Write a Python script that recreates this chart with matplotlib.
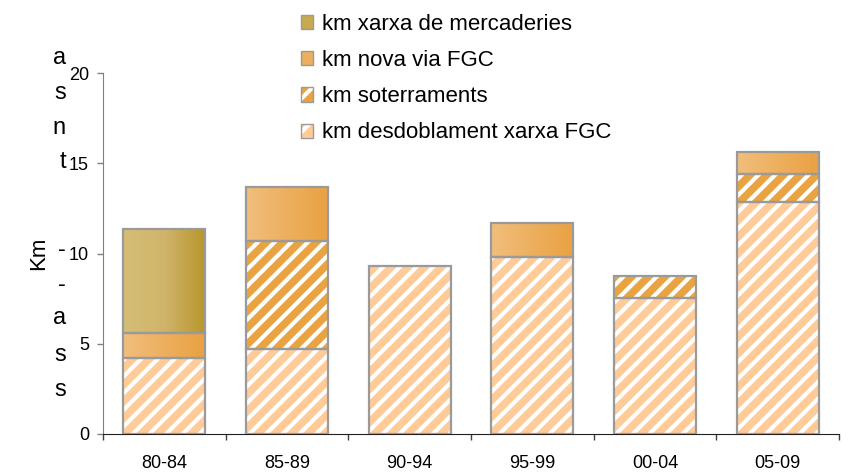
import numpy as np
import matplotlib
matplotlib.use('Agg')
import matplotlib.pyplot as plt
from matplotlib.patches import Patch
from matplotlib.colors import LinearSegmentedColormap

plt.rcParams['font.family'] = ['Liberation Sans', 'DejaVu Sans']
plt.rcParams['hatch.linewidth'] = 3.0

# data (km per period)
periods = ['80-84', '85-89', '90-94', '95-99', '00-04', '05-09']
desdoblament = [4.2, 4.7, 9.3, 9.8, 7.55, 12.85]
soterraments = [0.0, 6.0, 0.0, 0.0, 1.2, 1.55]
nova_via = [1.4, 3.0, 0.0, 1.9, 0.0, 1.2]
mercaderies = [5.75, 0.0, 0.0, 0.0, 0.0, 0.0]

names = ['km desdoblament xarxa FGC', 'km soterraments',
         'km nova via FGC', 'km xarxa de mercaderies']
# cut-off ends of the page text left of the chart
left_text = ['a', 's', 'n', 't', '-', '-', 'a', 's', 's']
left_y = [58, 93, 128, 162, 250, 285, 318, 355, 390]

edge = '#9a9a9a'
peach = '#FFCB98'
orange = '#E9A441'
nova_cmap = LinearSegmentedColormap.from_list('nova', ['#F1BE7C', '#E9A142'])
merc_cmap = LinearSegmentedColormap.from_list('merc', ['#D6BE76', '#D0B46A', '#B8952A'])

W, H = 848, 475
fig = plt.figure(figsize=(W / 100, H / 100), dpi=100)
ax = fig.add_axes([103 / W, 1 - 434 / H, (839 - 103) / W, (434 - 73) / H])

x = np.arange(len(periods))
bw = 0.67


def hatched(vals, bottoms, face):
    for xi, v, b in zip(x, vals, bottoms):
        if v <= 0:
            continue
        ax.bar(xi, v, bw, bottom=b, color=face, edgecolor='white', lw=0,
               hatch='//', zorder=2)
        ax.bar(xi, v, bw, bottom=b, fill=False, edgecolor=edge, lw=1.6, zorder=4)


def gradient(vals, bottoms, cmap):
    grad = np.linspace(0, 1, 256).reshape(1, -1)
    for xi, v, b in zip(x, vals, bottoms):
        if v <= 0:
            continue
        r = ax.bar(xi, v, bw, bottom=b, fill=False, edgecolor=edge, lw=1.6, zorder=4)[0]
        im = ax.imshow(grad, cmap=cmap, aspect='auto', zorder=2,
                       extent=[xi - bw / 2, xi + bw / 2, b, b + v])
        im.set_clip_path(r)


bot = np.zeros(len(periods))
hatched(desdoblament, bot, peach)
bot = bot + np.array(desdoblament)
hatched(soterraments, bot, orange)
bot = bot + np.array(soterraments)
gradient(nova_via, bot, nova_cmap)
bot = bot + np.array(nova_via)
gradient(mercaderies, bot, merc_cmap)

ax.set_xlim(-0.5, len(periods) - 0.5)
ax.set_ylim(0, 20)
ax.set_yticks([0, 5, 10, 15, 20])
ax.set_xticks(x)
ax.set_xticklabels(periods, fontsize=13)
ax.set_xticks(np.arange(-0.5, len(periods)), minor=True)
ax.tick_params(axis='x', which='major', length=0, pad=15)
ax.tick_params(axis='x', which='minor', length=4, width=1, color='#404040')
ax.tick_params(axis='y', length=4, width=1, color='#808080', labelsize=13, pad=6)
for s in ['top', 'right']:
    ax.spines[s].set_visible(False)
ax.spines['left'].set_color('#808080')
ax.spines['bottom'].set_color('#202020')
ax.set_ylabel('Km', fontsize=16, labelpad=14)

handles = [
    Patch(facecolor='#C9A94E', edgecolor=edge),
    Patch(facecolor='#EDAF5E', edgecolor=edge),
    (Patch(facecolor=orange, edgecolor='white', lw=0, hatch='/'),
     Patch(fill=False, edgecolor=edge)),
    (Patch(facecolor=peach, edgecolor='white', lw=0, hatch='/'),
     Patch(fill=False, edgecolor=edge)),
]
fig.legend(handles, names[::-1], loc='upper left', bbox_to_anchor=(290 / W, 1 - 3 / H),
           frameon=False, fontsize=16, handlelength=0.55, handleheight=0.6,
           handletextpad=0.4, labelspacing=0.68, borderpad=0)

for t, yy in zip(left_text, left_y):
    fig.text(66 / W, 1 - yy / H, t, ha='right', va='center', fontsize=17)

fig.savefig('out.png', dpi=100)
